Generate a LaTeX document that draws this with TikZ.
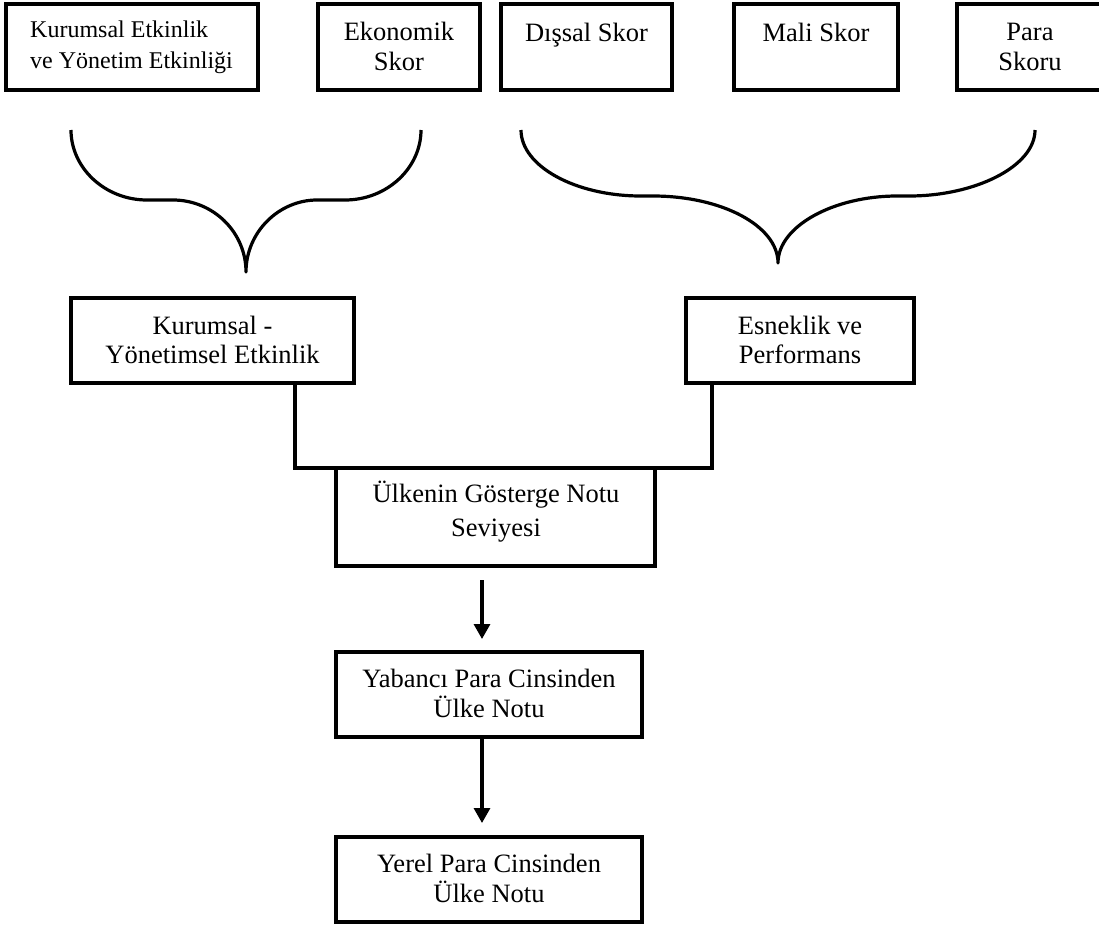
\documentclass[tikz,border=0pt]{standalone}
\usepackage{fontspec}
\setmainfont{Liberation Serif}
\usetikzlibrary{arrows.meta}

\begin{document}
\begin{tikzpicture}[x=1pt, y=-1pt,
  box/.style={draw, line width=3.2pt, inner sep=0pt, outer sep=0pt},
  txt/.style={inner sep=0pt, anchor=base, font=\fontsize{26.5}{30}\selectfont},
  smalltxt/.style={inner sep=0pt, anchor=base west, font=\fontsize{24}{28}\selectfont},
  brace/.style={line width=3.2pt, line join=round},
  link/.style={line width=3.2pt},
  arr/.style={line width=3.2pt, -{Triangle[width=16pt,length=15pt]}}
]
\useasboundingbox (0,0) rectangle (1099,927);

% top row of score boxes
\node[box, minimum width=252pt, minimum height=86pt] (kea) at (132,47) {};
\node[box, minimum width=162pt, minimum height=86pt] (eko) at (399,47) {};
\node[box, minimum width=171pt, minimum height=86pt] (dis) at (586.5,47) {};
\node[box, minimum width=164pt, minimum height=86pt] (mal) at (816,47) {};
\node[box, minimum width=147pt, minimum height=86pt] (par) at (1030.5,47) {};

\node[smalltxt] (kea1) at (30,37) {Kurumsal Etkinlik};
\node[smalltxt] (kea2) at (30,68) {ve Yönetim Etkinliği};
\node[txt] (eko1) at (399,40) {Ekonomik};
\node[txt] (eko2) at (399,70) {Skor};
\node[txt] (dis1) at (586.5,41.5) {Dışsal Skor};
\node[txt] (mal1) at (816,41.5) {Mali Skor};
\node[txt] (par1) at (1030,40) {Para};
\node[txt] (par2) at (1030,70) {Skoru};

% grouping braces
\draw[brace] (71,130) .. controls (71,168) and (105,200) .. (147,200)
  -- (173,200) .. controls (213,200) and (246,232) .. (246,272)
  .. controls (246,232) and (279,200) .. (317,200)
  -- (345,200) .. controls (387,200) and (421,168) .. (421,130);
\draw[brace] (521,130) .. controls (521,166) and (575,196) .. (641,196)
  -- (653,196) .. controls (722,196) and (778,226) .. (778,263)
  .. controls (778,226) and (834,196) .. (897,196)
  -- (909,196) .. controls (976,196) and (1035,166) .. (1035,130);

% second level
\node[box, minimum width=283pt, minimum height=85pt] (kye) at (212.5,340.5) {};
\node[box, minimum width=228pt, minimum height=85pt] (esn) at (800,340.5) {};
\node[txt] (kye1) at (212.5,334) {Kurumsal -};
\node[txt] (kye2) at (212.5,363) {Yönetimsel Etkinlik};
\node[txt] (esn1) at (800,334) {Esneklik ve};
\node[txt] (esn2) at (800,363) {Performans};

% combined indicator
\node[box, minimum width=319pt, minimum height=98pt] (gos) at (495.5,517) {};
\node[txt] (gos1) at (496,502) {Ülkenin Gösterge Notu};
\node[txt] (gos2) at (496,536) {Seviyesi};

\coordinate (jl) at (295,468);
\coordinate (jr) at (712,468);
\draw[link] (kye.south -| jl) -- (jl) -- (jr) -- (esn.south -| jr);

% country ratings
\node[box, minimum width=306pt, minimum height=85pt] (yab) at (489,694.5) {};
\node[txt] (yab1) at (489,687) {Yabancı Para Cinsinden};
\node[txt] (yab2) at (489,717) {Ülke Notu};

\node[box, minimum width=306pt, minimum height=85pt] (yer) at (489,879.5) {};
\node[txt] (yer1) at (489,872) {Yerel Para Cinsinden};
\node[txt] (yer2) at (489,902) {Ülke Notu};

\coordinate (a1) at (482,580);
\draw[arr, shorten >=13pt] (a1) -- (yab.north -| a1);
\draw[arr, shorten >=14pt] (yab.south -| a1) -- (yer.north -| a1);
\end{tikzpicture}
\end{document}
